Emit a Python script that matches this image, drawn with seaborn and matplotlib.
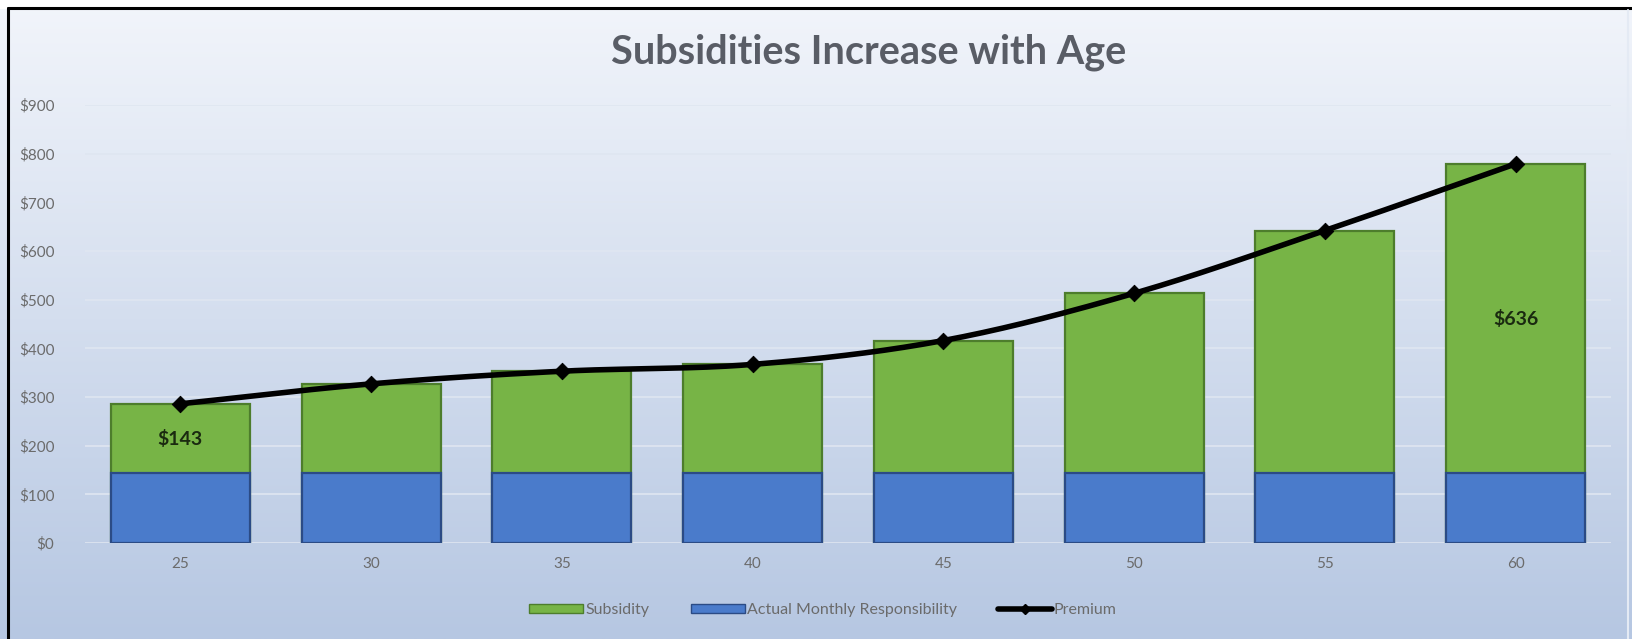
import numpy as np
import pandas as pd
import matplotlib
matplotlib.use("Agg")
import matplotlib.pyplot as plt
import seaborn as sns
from matplotlib.lines import Line2D
from matplotlib.patches import Patch

# ---- data ----
ages = ["25", "30", "35", "40", "45", "50", "55", "60"]
responsibility = [143, 143, 143, 143, 143, 143, 143, 143]
subsidy = [143, 184, 210, 224, 273, 370, 499, 636]
yticks = [0, 100, 200, 300, 400, 500, 600, 700, 800, 900]
title = "Subsidities Increase with Age"

premium = [r + s for r, s in zip(responsibility, subsidy)]
df = pd.DataFrame({"age": ages, "resp": responsibility, "sub": subsidy, "premium": premium})

sns.set_theme(style="white")
plt.rcParams["font.family"] = ["Lato", "DejaVu Sans"]

W, H, DPI = 1633, 639, 100
fig = plt.figure(figsize=(W / DPI, H / DPI), dpi=DPI)

# background gradient
bg = fig.add_axes([0, 0, 1, 1], zorder=-10)
grad = np.linspace(0, 1, 256)[:, None]
top = np.array([242, 245, 251]) / 255
bot = np.array([182, 199, 226]) / 255
img = top[None, None, :] * (1 - grad[:, :, None]) + bot[None, None, :] * grad[:, :, None]
bg.imshow(np.repeat(img, 2, axis=1), aspect="auto", extent=[0, 1, 0, 1], origin="upper")
bg.set_xlim(0, 1); bg.set_ylim(0, 1)
bg.axis("off")
# white strip at top + frame lines
bg.fill_between([0, 1], 1 - 8 / H, 1, color="white", zorder=2)
bg.plot([8 / W, 1], [1 - 8 / H, 1 - 8 / H], color="black", lw=2.2, zorder=3)
bg.plot([8 / W, 8 / W], [0, 1 - 8 / H], color="black", lw=2.2, zorder=3)
bg.plot([1628 / W, 1628 / W], [0, 1 - 10 / H], color="#e4eaf4", lw=1.5, zorder=3)

# main axes: x from 85 to 1611 px, y from 543 (0) to 105 (900)
left, right = 85 / W, 1611 / W
bottom_px, top_px = 543, 105
ax = fig.add_axes([left, 1 - bottom_px / H, right - left, (bottom_px - top_px) / H])
ax.patch.set_alpha(0)

green, green_dk = "#77b446", "#4d7d2c"
blue, blue_dk = "#4a7bcb", "#2b4b85"

sns.barplot(data=df, x="age", y="premium", color=green, saturation=1, width=0.73,
            edgecolor=green_dk, linewidth=1.6, ax=ax, zorder=2)
sns.barplot(data=df, x="age", y="resp", color=blue, saturation=1, width=0.73,
            edgecolor=blue_dk, linewidth=1.6, ax=ax, zorder=3)

# smooth premium line (Catmull-Rom through the data points)
xs = np.arange(len(ages), dtype=float)
ys = np.array(premium, dtype=float)
px = np.concatenate([[2 * xs[0] - xs[1]], xs, [2 * xs[-1] - xs[-2]]])
py = np.concatenate([[2 * ys[0] - ys[1]], ys, [2 * ys[-1] - ys[-2]]])
cx, cy = [], []
t = np.linspace(0, 1, 30)
for i in range(1, len(px) - 2):
    for arr, out in ((px, cx), (py, cy)):
        p0, p1, p2, p3 = arr[i - 1], arr[i], arr[i + 1], arr[i + 2]
        out.extend(0.5 * ((2 * p1) + (-p0 + p2) * t + (2 * p0 - 5 * p1 + 4 * p2 - p3) * t ** 2
                          + (-p0 + 3 * p1 - 3 * p2 + p3) * t ** 3))
ax.plot(cx, cy, color="black", lw=4, zorder=5, solid_capstyle="round")
sns.scatterplot(x=xs, y=ys, marker="D", color="black", s=70, edgecolor="black", zorder=6, ax=ax,
                legend=False)

# data labels
for i in (0, len(ages) - 1):
    ax.text(i, responsibility[i] + subsidy[i] / 2, f"${subsidy[i]}", ha="center", va="center",
            fontsize=14, fontweight="bold", color="#1a2a10", zorder=7)

ax.set_ylim(0, 900)
ax.set_xlim(-0.5, len(ages) - 0.5)
ax.set_yticks(yticks)
ax.set_yticklabels([f"${v}" for v in yticks], color="#6b6b6b", fontsize=11)
ax.set_xticks(range(len(ages)))
ax.set_xticklabels(ages, color="#6b6b6b", fontsize=11)
ax.tick_params(axis="both", length=0, pad=10)
ax.tick_params(axis="y", pad=22)
ax.set_xlabel(""); ax.set_ylabel("")
ax.yaxis.grid(True, color="#dfe6f1", lw=1.2, zorder=0)
ax.set_axisbelow(True)
for s in ax.spines.values():
    s.set_visible(False)

fig.text(869 / W, 1 - 52 / H, title, ha="center", va="center", fontsize=28.5,
         fontweight="bold", color="#595d66")

handles = [Patch(facecolor=green, edgecolor=green_dk),
           Patch(facecolor=blue, edgecolor=blue_dk),
           Line2D([], [], color="black", lw=4, marker="D", markersize=5)]
fig.legend(handles, ["Subsidity", "Actual Monthly Responsibility", "Premium"],
           loc="center", bbox_to_anchor=(823 / W, 1 - 610 / H), ncol=3, frameon=False,
           fontsize=11.5, labelcolor="#6b6b6b", handlelength=3.4, handleheight=0.5,
           columnspacing=2.6, handletextpad=0.1)

fig.savefig("out.png", dpi=DPI)
